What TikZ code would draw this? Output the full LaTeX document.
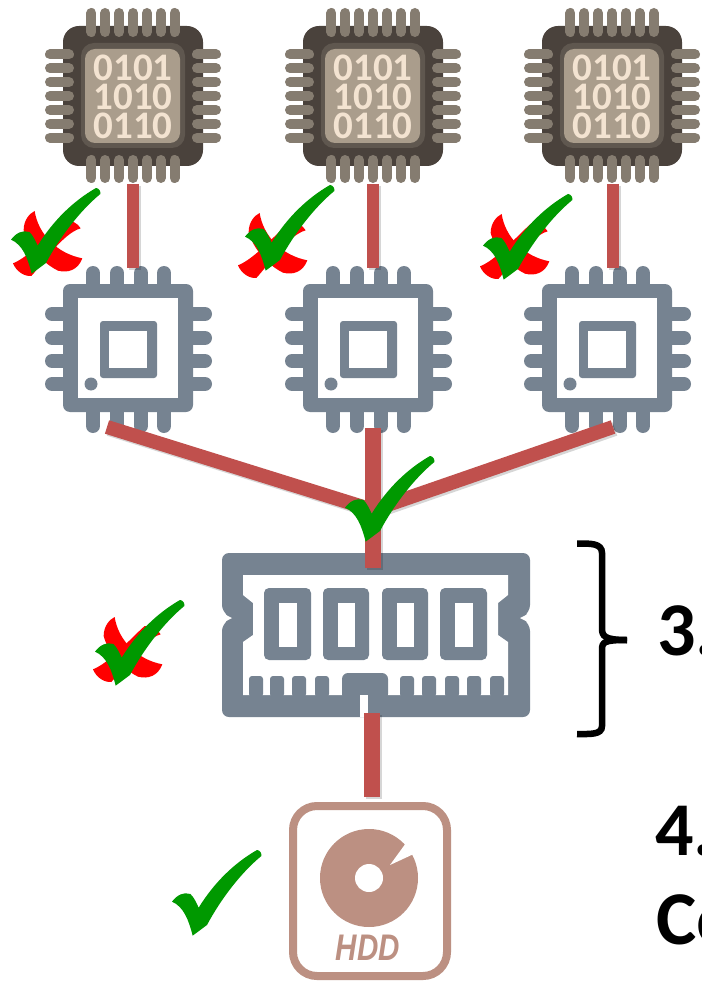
\documentclass[tikz,border=0pt]{standalone}
\usepackage{fontspec}
\newfontfamily\carl{Carlito}
\newfontfamily\libs{Liberation Sans}
\definecolor{chipbody}{HTML}{4A423C}
\definecolor{chiprim}{HTML}{5F574F}
\definecolor{chipface}{HTML}{AA9D8C}
\definecolor{chipdigit}{HTML}{F3E3D1}
\definecolor{chippin}{HTML}{857C70}
\definecolor{slate}{HTML}{768391}
\definecolor{linkred}{HTML}{C0504D}
\definecolor{hddc}{HTML}{BC9082}
\definecolor{tickgreen}{HTML}{009900}
\tikzset{
  anchorbox/.style={inner sep=0pt,outer sep=0pt,minimum width=#1,minimum height=#1},
  link/.style={draw=linkred,line width=#1,preaction={draw=black,opacity=.16,line width=#1,transform canvas={shift={(2pt,-2pt)}}}},
  chippinline/.style={chippin,line width=10pt,line cap=round},
  corepin/.style={slate,line width=14pt,line cap=round},
  digits/.style={text=chipdigit,align=center,font=\carl\bfseries\fontsize{39}{29}\selectfont,inner sep=0pt},
  label/.style={anchor=base west,inner sep=0pt,font=\carl\bfseries\fontsize{76}{76}\selectfont}
}
\newcommand\chipicon[1]{\begin{scope}[shift={(#1,96)}]
  \fill[chipbody,rounded corners=16pt] (-70,-70) rectangle (70,70);
  \foreach \d in {-41.6,-27.7,-13.9,0,13.9,27.7,41.6}{
    \draw[chippinline] (\d,-83) -- (\d,-64);
    \draw[chippinline] (\d,64) -- (\d,82);
    \draw[chippinline] (-83,\d) -- (-64,\d);
    \draw[chippinline] (64,\d) -- (83,\d);
  }
  \fill[chiprim,rounded corners=13pt] (-52,-53) rectangle (52,52);
  \fill[chipface,rounded corners=10pt] (-48,-47) rectangle (47,47);
  \node[digits] at (0,1) {0101\\1010\\0110};
\end{scope}}
\newcommand\coreicon[1]{\begin{scope}[shift={(#1,348)}]
  \foreach \d in {-35,-11,13,36}{
    \draw[corepin] (\d,-75) -- (\d,-60);
    \draw[corepin] (\d,60) -- (\d,78);
  }
  \foreach \d in {-34,-10,13,36}{
    \draw[corepin] (-76,\d) -- (-60,\d);
    \draw[corepin] (60,\d) -- (77,\d);
  }
  \fill[slate,rounded corners=7pt] (-65,-64) rectangle (65,64);
  \fill[white] (-50,-50) rectangle (50,50);
  \fill[slate,rounded corners=3pt] (-28,-27) rectangle (29,30);
  \fill[white] (-19,-17) rectangle (19,20);
  \fill[slate] (-37,36) circle (6.5);
\end{scope}}
\newcommand\redx[2]{\begin{scope}[shift={(#1,#2)},scale=.3333,shift={(-40,-633)}]
  \fill[red] (105,633) .. controls (115,700) and (170,760) .. (248,775)
     .. controls (235,810) and (205,820) .. (175,812)
     .. controls (130,790) and (85,740) .. (72,690)
     .. controls (72,660) and (90,640) .. (105,633) -- cycle;
  \fill[red] (195,660) .. controls (150,700) and (90,770) .. (40,790)
     .. controls (50,815) and (75,830) .. (95,828)
     .. controls (130,790) and (190,700) .. (243,685)
     .. controls (235,670) and (215,660) .. (195,660) -- cycle;
\end{scope}}
\newcommand\tick[2]{\begin{scope}[shift={(#1,#2)},scale=.3333,shift={(-35,-210)}]
  \fill[tickgreen] (35,365) .. controls (50,345) and (70,335) .. (90,342)
     .. controls (100,350) and (108,368) .. (115,383)
     .. controls (160,310) and (220,250) .. (290,210)
     .. controls (298,210) and (305,220) .. (303,228)
     .. controls (240,280) and (180,360) .. (140,435)
     -- (97,467) .. controls (85,420) and (70,380) .. (35,365) -- cycle;
\end{scope}}
\begin{document}
\begin{tikzpicture}[x=1pt,y=-1pt]
\useasboundingbox (0,0) rectangle (701,981);
\clip (0,0) rectangle (701,981);
\fill[white] (0,0) rectangle (701,981);
% icons
\chipicon{133}\chipicon{373}\chipicon{612}
\coreicon{128}\coreicon{368}\coreicon{607}
% RAM
\fill[slate,rounded corners=7pt] (222,553) -- (530,553) -- (530,612) -- (521,618) -- (530,624) -- (530,717) -- (222,717) -- (222,624) -- (232,618) -- (222,612) -- cycle;
\fill[white] (243,575) -- (508,575) -- (508,595) -- (498,603) -- (498,635) -- (508,642) -- (508,695) -- (243,695) -- (243,642) -- (253,635) -- (253,603) -- (243,595) -- cycle;
\fill[white] (222,613) -- (232,618) -- (222,623) -- cycle;
\fill[white] (530,613) -- (520,618) -- (530,623) -- cycle;
\foreach \a/\b in {264/311,323/369,382/428,440/487}{
  \fill[slate,rounded corners=5pt] (\a,588) rectangle (\b,660);
  \fill[white] (\a+15,603) rectangle (\b-14,647);
}
\foreach \t in {256,277,299,322,407,429,452,474,497}{
  \fill[slate,rounded corners=3pt] (\t-7,676) rectangle (\t+7,697);
}
\fill[slate,rounded corners=6pt] (342,700) -- (342,673) -- (388,673) -- (388,700) -- cycle;
\fill[white] (360,695) rectangle (368,717);
% HDD
\draw[hddc,line width=8pt,rounded corners=24pt] (293,806) rectangle (447,976);
\fill[hddc] (369,878) circle (49);
\fill[white] (369,878) circle (14);
\fill[white] (390,865) -- (406,843) -- (418,852) -- cycle;
\node[inner sep=0pt,text=hddc,font=\libs\bfseries\itshape\fontsize{37}{37}\selectfont,xscale=.8] (hddlabel) at (368,948) {HDD};
% anchors
\node[anchorbox=176pt] (chipA) at (133,96) {};
\node[anchorbox=176pt] (chipB) at (373,96) {};
\node[anchorbox=176pt] (chipC) at (613,96) {};
\node[anchorbox=164pt] (coreA) at (128,350) {};
\node[anchorbox=164pt] (coreB) at (368,350) {};
\node[anchorbox=164pt] (coreC) at (607,350) {};
\node[inner sep=0pt,outer sep=0pt,minimum width=308pt,minimum height=145pt] (ram) at (373,640.5) {};
\node[inner sep=0pt,outer sep=0pt,minimum width=162pt,minimum height=178pt] (hdd) at (372,886) {};
\coordinate (fromA) at (107,427);
\coordinate (fromC) at (613,427);
\coordinate (fromB) at (373,428);
\coordinate (merge) at (373,510);
\coordinate (ramlow) at (372,713);
% connectors
\foreach \n/\m in {chipA/coreA,chipB/coreB,chipC/coreC}{
  \draw[link=12pt] (\n.south) -- (\n.south |- \m.north);
}
\draw[link=14pt] (fromA) -- (merge);
\draw[link=14pt] (fromC) -- (merge);
\draw[link=16pt] (fromB) -- (fromB |- ram.north);
\draw[link=16pt] (ramlow) -- (ramlow |- hdd.north);
% marks
\redx{13}{211}\redx{238}{213}\redx{480}{214}\redx{93}{617}
\tick{11}{188}\tick{245}{185}\tick{483}{194}\tick{345}{456}\tick{95}{600}\tick{172}{850}
% brace
\draw[black,line width=6.5pt,line cap=butt] (577,543.5) .. controls (590,543.5) and (602,543) .. (602,553) -- (602,628) .. controls (602,636) and (604,640) .. (627,640);
\draw[black,line width=6.5pt] (577,734) .. controls (590,734) and (602,735) .. (602,726) -- (602,650) .. controls (602,642) and (604,640) .. (627,640);
% texts
\node[label] (t3) at (657,655) {3.};
\node[label] (t4) at (655,855) {4.};
\node[label] (t5) at (656,944) {Co};
\end{tikzpicture}
\end{document}
